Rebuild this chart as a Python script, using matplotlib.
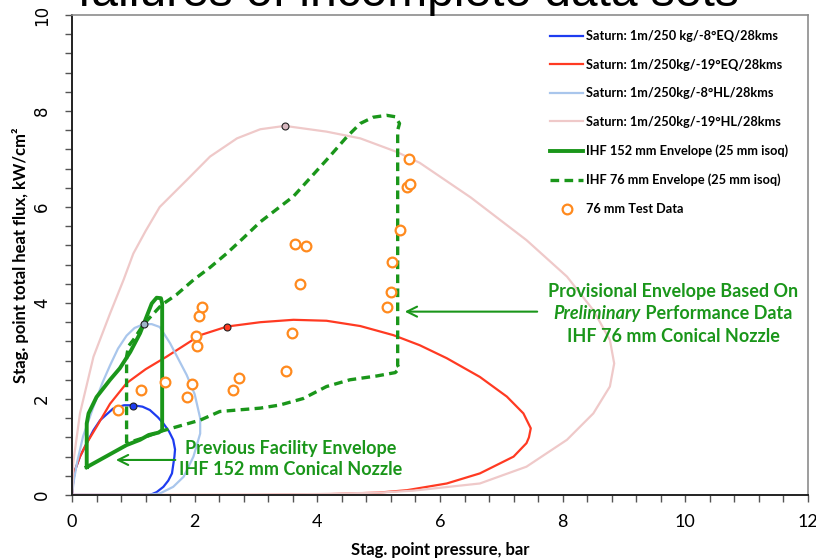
import matplotlib
matplotlib.use("Agg")
import matplotlib.pyplot as plt
from matplotlib.ticker import MultipleLocator

# ---------------- data ----------------
blue_x = [0, 0.02, 0.05, 0.13, 0.24, 0.35, 0.46, 0.67, 0.85, 1.0, 1.15, 1.27, 1.40, 1.49, 1.58, 1.65, 1.68, 1.67, 1.63, 1.57, 1.49, 1.38, 1.27, 1.0, 0.5, 0]
blue_y = [0, 0.30, 0.52, 0.80, 1.08, 1.35, 1.56, 1.80, 1.87, 1.87, 1.84, 1.77, 1.62, 1.49, 1.33, 1.15, 0.95, 0.80, 0.45, 0.30, 0.17, 0.06, 0.0, 0, 0, 0]

red_x = [0, 0.02, 0.05, 0.13, 0.24, 0.40, 0.62, 0.89, 1.2, 1.54, 2.09, 2.53, 3.07, 3.61, 4.15, 4.70, 5.24, 5.67, 6.11, 6.65, 7.09, 7.36, 7.48, 7.45, 7.41, 7.2, 6.65, 6.11, 5.46, 5.0, 4.0, 3.0, 2.0, 0]
red_y = [0, 0.30, 0.52, 0.80, 1.08, 1.42, 1.90, 2.33, 2.62, 2.88, 3.33, 3.51, 3.60, 3.65, 3.63, 3.52, 3.33, 3.12, 2.85, 2.46, 2.05, 1.70, 1.39, 1.20, 1.08, 0.80, 0.45, 0.24, 0.10, 0.05, 0.01, 0, 0, 0]

lblue_x = [0, 0.03, 0.08, 0.18, 0.35, 0.50, 0.62, 0.75, 0.89, 1.02, 1.17, 1.30, 1.43, 1.60, 1.87, 2.00, 2.09, 2.09, 1.98, 1.82, 1.65, 1.43, 1.2, 0.5, 0]
lblue_y = [0, 0.30, 0.66, 1.22, 1.84, 2.35, 2.70, 3.05, 3.32, 3.48, 3.56, 3.56, 3.50, 3.16, 2.50, 2.10, 1.60, 1.28, 0.80, 0.38, 0.17, 0.03, 0, 0, 0]

pink_x = [0, 0.02, 0.13, 0.35, 0.62, 0.84, 1.0, 1.2, 1.43, 1.87, 2.25, 2.69, 3.07, 3.47, 4.15, 4.70, 5.29, 5.67, 6.5, 7.41, 8.07, 8.5, 8.77, 8.84, 8.77, 8.5, 8.07, 7.41, 6.65, 5.56, 5.02, 4.0, 2.0, 0]
pink_y = [0, 0.67, 1.70, 2.88, 3.78, 4.48, 5.03, 5.50, 6.0, 6.56, 7.05, 7.43, 7.62, 7.69, 7.57, 7.43, 7.15, 6.92, 6.2, 5.31, 4.55, 3.85, 3.23, 2.74, 2.26, 1.70, 1.15, 0.59, 0.24, 0.09, 0.05, 0.02, 0, 0]

ihf152_x = [0.24, 0.24, 0.27, 0.40, 0.62, 0.78, 0.95, 1.11, 1.30, 1.38, 1.45, 1.47, 1.47, 1.41, 1.25, 1.11, 0.89, 0.24]
ihf152_y = [0.58, 1.49, 1.70, 2.04, 2.40, 2.64, 2.98, 3.37, 3.99, 4.11, 4.10, 3.99, 1.35, 1.30, 1.25, 1.15, 1.04, 0.58]

ihf76_x = [0.89, 0.89, 0.92, 1.0, 1.17, 1.46, 1.70, 1.98, 2.25, 2.52, 2.79, 3.07, 3.61, 4.15, 4.48, 4.70, 4.91, 5.13, 5.27, 5.34, 5.31, 5.31, 5.34, 5.27, 4.97, 4.53, 4.15, 3.77, 3.39, 3.07, 2.41, 2.09, 1.43, 1.14, 0.89]
ihf76_y = [1.08, 2.88, 3.10, 3.23, 3.56, 3.96, 4.17, 4.48, 4.74, 5.03, 5.35, 5.69, 6.22, 6.98, 7.46, 7.74, 7.87, 7.91, 7.88, 7.74, 7.60, 2.70, 2.64, 2.55, 2.48, 2.40, 2.26, 2.01, 1.875, 1.81, 1.74, 1.56, 1.32, 1.18, 1.08]

test_x = [0.755, 1.13, 1.52, 1.88, 1.96, 2.02, 2.04, 2.07, 2.125, 2.62, 2.73, 3.49, 3.58, 3.63, 3.72, 3.82, 5.13, 5.20, 5.21, 5.35, 5.46, 5.49, 5.51]
test_y = [1.77, 2.18, 2.35, 2.05, 2.32, 3.31, 3.10, 3.72, 3.91, 2.18, 2.44, 2.58, 3.375, 5.22, 4.40, 5.19, 3.92, 4.23, 4.85, 5.52, 6.42, 6.99, 6.47]

peak_x = [1.0, 2.53, 1.17, 3.47]
peak_y = [1.85, 3.51, 3.56, 7.69]

labels = ["Saturn: 1m/250 kg/-8°EQ/28kms",
          "Saturn: 1m/250kg/-19°EQ/28kms",
          "Saturn: 1m/250kg/-8°HL/28kms",
          "Saturn: 1m/250kg/-19°HL/28kms",
          "IHF 152 mm Envelope (25 mm isoq)",
          "IHF 76 mm Envelope (25 mm isoq)",
          "76 mm Test Data"]

# ---------------- style ----------------
C_BLUE = "#1e3cf0"
C_RED = "#ff3a22"
C_LBLUE = "#a9c6ec"
C_PINK = "#efc9c9"
C_GREEN = "#1a961a"
C_ORANGE = "#ff8a1e"
peak_colors = [C_BLUE, C_RED, "#9fb4c8", "#d8b8c0"]

FONT = "Lato"

fig = plt.figure(figsize=(8.16, 5.6), dpi=100)
ax = fig.add_axes([72/816, 1-495/560, (808-72)/816, (495-15)/560])

l1, = ax.plot(blue_x, blue_y, color=C_BLUE, lw=1.6)
l2, = ax.plot(red_x, red_y, color=C_RED, lw=1.6)
l3, = ax.plot(lblue_x, lblue_y, color=C_LBLUE, lw=1.6)
l4, = ax.plot(pink_x, pink_y, color=C_PINK, lw=1.6)
l5, = ax.plot(ihf152_x, ihf152_y, color=C_GREEN, lw=2.8, solid_joinstyle="round")
l6, = ax.plot(ihf76_x, ihf76_y, color=C_GREEN, lw=2.4, ls=(0, (2.6, 1.6)))
l7, = ax.plot(test_x, test_y, ls="none", marker="o", ms=7, mfc="white",
              mec=C_ORANGE, mew=1.6)
for px, py, pc in zip(peak_x, peak_y, peak_colors):
    ax.plot([px], [py], ls="none", marker="o", ms=5, mfc=pc, mec="#222222", mew=0.8, zorder=5)

ax.set_xlim(0, 12)
ax.set_ylim(0, 10)
ax.xaxis.set_major_locator(MultipleLocator(2))
ax.yaxis.set_major_locator(MultipleLocator(2))
ax.xaxis.set_minor_locator(MultipleLocator(0.4))
ax.yaxis.set_minor_locator(MultipleLocator(0.4))
ax.tick_params(axis="both", which="both", direction="out", length=5, width=1, color="#555555")
ax.tick_params(axis="x", which="major", pad=9, labelsize=13)
ax.tick_params(axis="y", which="major", pad=10, labelsize=12)
for t in ax.get_xticklabels():
    t.set_fontfamily(FONT)
for t in ax.get_yticklabels():
    t.set_rotation(90)
    t.set_va("center")
    t.set_fontfamily("DejaVu Sans")

for s in ["top", "right"]:
    ax.spines[s].set_color("#8c8c8c")
    ax.spines[s].set_linewidth(1.2)
for s in ["left", "bottom"]:
    ax.spines[s].set_color("#222222")
    ax.spines[s].set_linewidth(1.4)

ax.set_xlabel("Stag. point pressure, bar", fontfamily=FONT, fontweight="bold", fontsize=12, labelpad=8)
ax.set_ylabel("Stag. point total heat flux, kW/cm²", fontfamily=FONT, fontweight="bold", fontsize=12, labelpad=3)

leg = ax.legend([l1, l2, l3, l4, l5, l6, l7], labels, loc="upper left",
                bbox_to_anchor=((550 - 72) / 736, (495 - 30) / 480),
                frameon=False, prop={"family": FONT, "weight": "bold", "size": 9.2},
                handlelength=2.6, handletextpad=0.25, labelspacing=1.3, borderpad=0,
                borderaxespad=0)

# annotations
ax.annotate("", xy=(0.67, 0.73), xytext=(1.73, 0.73),
            arrowprops=dict(arrowstyle="->", color=C_GREEN, lw=1.5, mutation_scale=18))
ax.text(3.57, 0.75, "Previous Facility Envelope\nIHF 152 mm Conical Nozzle", color=C_GREEN,
        fontfamily=FONT, fontweight="bold", fontsize=13, ha="center", va="center", linespacing=1.25)

ax.annotate("", xy=(5.38, 3.82), xytext=(7.63, 3.82),
            arrowprops=dict(arrowstyle="->", color=C_GREEN, lw=1.5, mutation_scale=18))
ax.text(9.8, 4.24, "Provisional Envelope Based On", color=C_GREEN, fontfamily=FONT,
        fontweight="bold", fontsize=13, ha="center", va="center")
t_it = ax.text(9.8, 3.79, "Preliminary", color=C_GREEN, fontfamily=FONT, fontweight="bold",
               fontstyle="italic", fontsize=13, ha="right", va="center")
t_rest = ax.text(9.8, 3.79, " Performance Data", color=C_GREEN, fontfamily=FONT, fontweight="bold",
                 fontsize=13, ha="left", va="center")
ax.text(9.8, 3.30, "IHF 76 mm Conical Nozzle", color=C_GREEN, fontfamily=FONT,
        fontweight="bold", fontsize=13, ha="center", va="center")

# centre the mixed-style second line
fig.canvas.draw()
r = fig.canvas.get_renderer()
w1 = t_it.get_window_extent(r).width
w2 = t_rest.get_window_extent(r).width
inv = ax.transData.inverted()
x0, _ = ax.transData.transform((9.8, 3.79))
shift = (w1 - w2) / 2.0
xn = inv.transform((x0 + shift, 0))[0]
t_it.set_x(xn)
t_rest.set_x(xn)

fig.text(0.5, 1 - 6/560, "failures of incomplete data sets", ha="center", va="baseline",
         fontfamily="Liberation Sans", fontsize=34.5)

fig.savefig("out.png", dpi=100)
